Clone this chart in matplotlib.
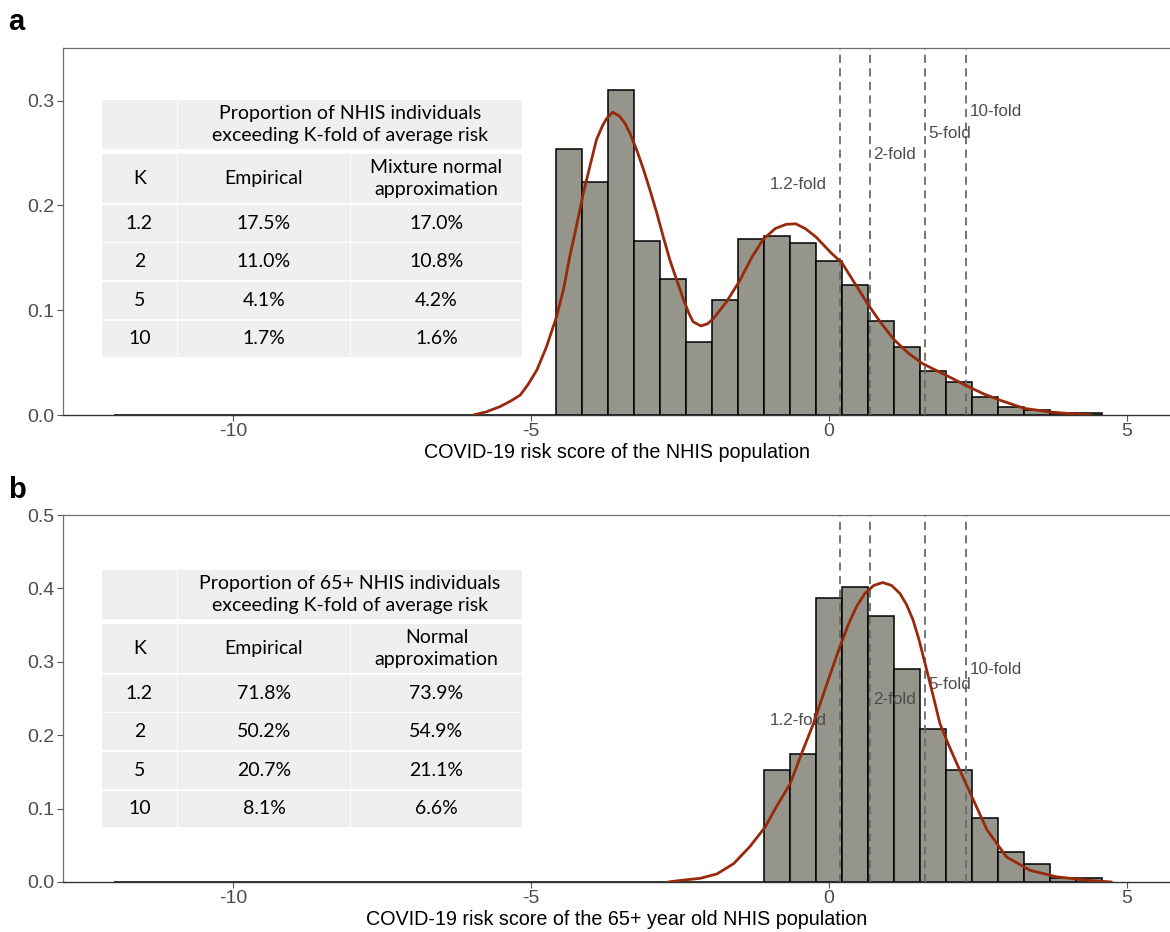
import numpy as np
import matplotlib
matplotlib.use("Agg")
import matplotlib.pyplot as plt
from matplotlib.patches import Rectangle

plt.rcParams['font.family'] = ['Liberation Sans', 'DejaVu Sans']

# -----------------------
# DATA
# -----------------------

# shared histogram grid: 38 bins starting at -12
bin_start = -12.0
bin_width = 0.4363
n_bins = 38

# density heights of the non-empty bins (panel a starts at bin 17, panel b at bin 25)
all_first_bin = 17
all_density = [0.254, 0.222, 0.310, 0.1665, 0.1296, 0.0694, 0.1095, 0.1684,
               0.171, 0.1646, 0.1474, 0.1239, 0.0895, 0.0653, 0.0423, 0.0312,
               0.0175, 0.0076, 0.0048, 0.0016, 0.0015]

old_first_bin = 25
old_density = [0.152, 0.174, 0.387, 0.402, 0.362, 0.290, 0.208, 0.153,
               0.0868, 0.0409, 0.0249, 0.0059, 0.005]

# fitted densities (mixture normal for a, normal for b)
all_curve_x = [-5.97, -5.75, -5.52, -5.35, -5.18, -5.05, -4.90, -4.74, -4.57, -4.45,
               -4.35, -4.23, -4.12, -4.0, -3.90, -3.80, -3.73, -3.63, -3.51, -3.42,
               -3.34, -3.22, -3.11, -3.0, -2.89, -2.78, -2.67, -2.55, -2.44, -2.35,
               -2.28, -2.15, -2.04, -1.94, -1.83, -1.72, -1.5, -1.3, -1.1, -0.9,
               -0.72, -0.56, -0.4, -0.22, 0.03, 0.22, 0.44, 0.66, 0.87, 1.09,
               1.33, 1.57, 1.96, 2.34, 2.6, 2.86, 3.27, 3.69, 4.0, 4.4]
all_curve_y = [0.0, 0.003, 0.008, 0.013, 0.019, 0.029, 0.043, 0.065, 0.094, 0.121,
               0.151, 0.182, 0.212, 0.240, 0.263, 0.276, 0.283, 0.289, 0.285, 0.278,
               0.269, 0.252, 0.234, 0.214, 0.193, 0.170, 0.148, 0.128, 0.110, 0.097,
               0.089, 0.085, 0.087, 0.092, 0.100, 0.108, 0.128, 0.150, 0.168, 0.178,
               0.182, 0.1825, 0.178, 0.170, 0.155, 0.145, 0.125, 0.105, 0.088, 0.072,
               0.059, 0.049, 0.038, 0.027, 0.020, 0.0143, 0.0064, 0.003, 0.0015, 0.0]

old_curve_x = [-2.70, -2.40, -2.16, -1.88, -1.60, -1.33, -1.07, -0.88, -0.65, -0.46,
               -0.26, -0.09, 0.05, 0.18, 0.32, 0.46, 0.6, 0.75, 0.9, 1.05,
               1.19, 1.3, 1.41, 1.51, 1.61, 1.74, 1.86, 2.0, 2.14, 2.37,
               2.65, 2.98, 3.37, 3.82, 4.38, 4.74]
old_curve_y = [0.0, 0.003, 0.005, 0.011, 0.025, 0.048, 0.075, 0.103, 0.134, 0.175,
               0.216, 0.257, 0.290, 0.32, 0.350, 0.375, 0.393, 0.404, 0.408, 0.404,
               0.393, 0.378, 0.357, 0.330, 0.298, 0.256, 0.216, 0.188, 0.162, 0.121,
               0.071, 0.034, 0.016, 0.007, 0.002, 0.0]

# K-fold thresholds and where their labels sit
fold_k = [1.2, 2, 5, 10]
fold_labels = ["1.2-fold", "2-fold", "5-fold", "10-fold"]
fold_label_y = [0.22, 0.249, 0.269, 0.29]

# tables
k_col = ["1.2", "2", "5", "10"]
all_empirical = ["17.5%", "11.0%", "4.1%", "1.7%"]
all_approx = ["17.0%", "10.8%", "4.2%", "1.6%"]
old_empirical = ["71.8%", "50.2%", "20.7%", "8.1%"]
old_approx = ["73.9%", "54.9%", "21.1%", "6.6%"]

W, H = 1170, 932
BAR_FILL = "#96958c"
CURVE = "#972a0a"
TXT_GRAY = "#4d4d4d"


def px_box(left, top, right, bottom):
    # pixel box -> figure fraction rect
    return [left / W, 1 - bottom / H, (right - left) / W, (bottom - top) / H]


def draw_panel(ax, first_bin, dens, cx, cy, ymax, yticks, xlabel):
    heights = np.zeros(n_bins)
    heights[first_bin:first_bin + len(dens)] = dens
    edges = bin_start + bin_width * np.arange(n_bins)
    ax.bar(edges, heights, width=bin_width, align='edge', color=BAR_FILL,
           edgecolor='black', linewidth=1.1, zorder=2)

    for k, lab, ly in zip(fold_k, fold_labels, fold_label_y):
        xk = np.log(k)
        ax.axvline(xk, color="#6a6a6a", linestyle=(0, (4.5, 3)), linewidth=1.3, zorder=3)
        if k == 1.2:
            ax.text(xk - 0.22, ly, lab, ha='right', va='center', fontsize=12.3,
                    color=TXT_GRAY, zorder=4)
        else:
            ax.text(xk + 0.05, ly, lab, ha='left', va='center', fontsize=12.3,
                    color=TXT_GRAY, zorder=4)

    ax.plot(cx, cy, color=CURVE, linewidth=2.0, solid_joinstyle='round',
            solid_capstyle='round', zorder=5)

    ax.set_xlim(-12.85, 5.72)
    ax.set_ylim(0, ymax)
    ax.set_xticks([-10, -5, 0, 5])
    ax.set_xticklabels(["-10", "-5", "0", "5"])
    ax.set_yticks(yticks)
    ax.set_yticklabels([f"{t:.1f}" for t in yticks])
    ax.tick_params(axis='both', colors="#555555", labelcolor=TXT_GRAY,
                   labelsize=14, length=4, width=0.8, pad=2)
    ax.set_xlabel(xlabel, fontsize=14.2, color='black', labelpad=2)
    for side in ['left', 'top']:
        ax.spines[side].set_color("#6e6e6e")
        ax.spines[side].set_linewidth(0.9)
    ax.spines['bottom'].set_color("#333333")
    ax.spines['bottom'].set_linewidth(1.0)
    ax.spines['right'].set_visible(False)


def draw_table(fig, top, title, approx_head, emp, approx):
    fill = "#efefef"
    cols = [(101.6, 177.3), (178.4, 349.5), (351.2, 521.7)]
    rows = [(54, 103), (105, 141.7), (143, 180), (181.7, 219), (220.7, 256.7)]
    tfont = dict(family=['Lato', 'DejaVu Sans'], fontsize=14, color='black',
                 ha='center', va='center')

    def cell(l, t, r, b, text=None):
        fig.add_artist(Rectangle((l / W, 1 - (top + b) / H), (r - l) / W, (b - t) / H,
                                 transform=fig.transFigure, facecolor=fill,
                                 edgecolor='none'))
        if text is not None:
            fig.text((l + r) / 2 / W, 1 - (top + (t + b) / 2) / H, text,
                     linespacing=1.4, **tfont)

    cell(cols[0][0], 0, cols[0][1], 48.7)
    cell(cols[1][0], 0, cols[2][1], 48.7, title)
    heads = ["K", "Empirical", approx_head]
    for (l, r), h in zip(cols, heads):
        cell(l, rows[0][0], r, rows[0][1], h)
    for i in range(4):
        t, b = rows[i + 1]
        for (l, r), v in zip(cols, [k_col[i], emp[i], approx[i]]):
            cell(l, t, r, b, v)


fig = plt.figure(figsize=(W / 100, H / 100), dpi=100)

ax_a = fig.add_axes(px_box(63, 48.3, 1170, 415))
draw_panel(ax_a, all_first_bin, all_density, all_curve_x, all_curve_y, 0.35,
           [0.0, 0.1, 0.2, 0.3], "COVID-19 risk score of the NHIS population")

ax_b = fig.add_axes(px_box(63, 515, 1170, 882))
draw_panel(ax_b, old_first_bin, old_density, old_curve_x, old_curve_y, 0.5,
           [0.0, 0.1, 0.2, 0.3, 0.4, 0.5],
           "COVID-19 risk score of the 65+ year old NHIS population")

draw_table(fig, 100, "Proportion of NHIS individuals\nexceeding K-fold of average risk",
           "Mixture normal\napproximation", all_empirical, all_approx)
draw_table(fig, 570, "Proportion of 65+ NHIS individuals\nexceeding K-fold of average risk",
           "Normal\napproximation", old_empirical, old_approx)

fig.text(8 / W, 1 - 22 / H, "a", fontsize=21, fontweight='bold', va='center', ha='left')
fig.text(8 / W, 1 - 490 / H, "b", fontsize=21, fontweight='bold', va='center', ha='left')

fig.savefig("out.png", dpi=100, facecolor='white')
